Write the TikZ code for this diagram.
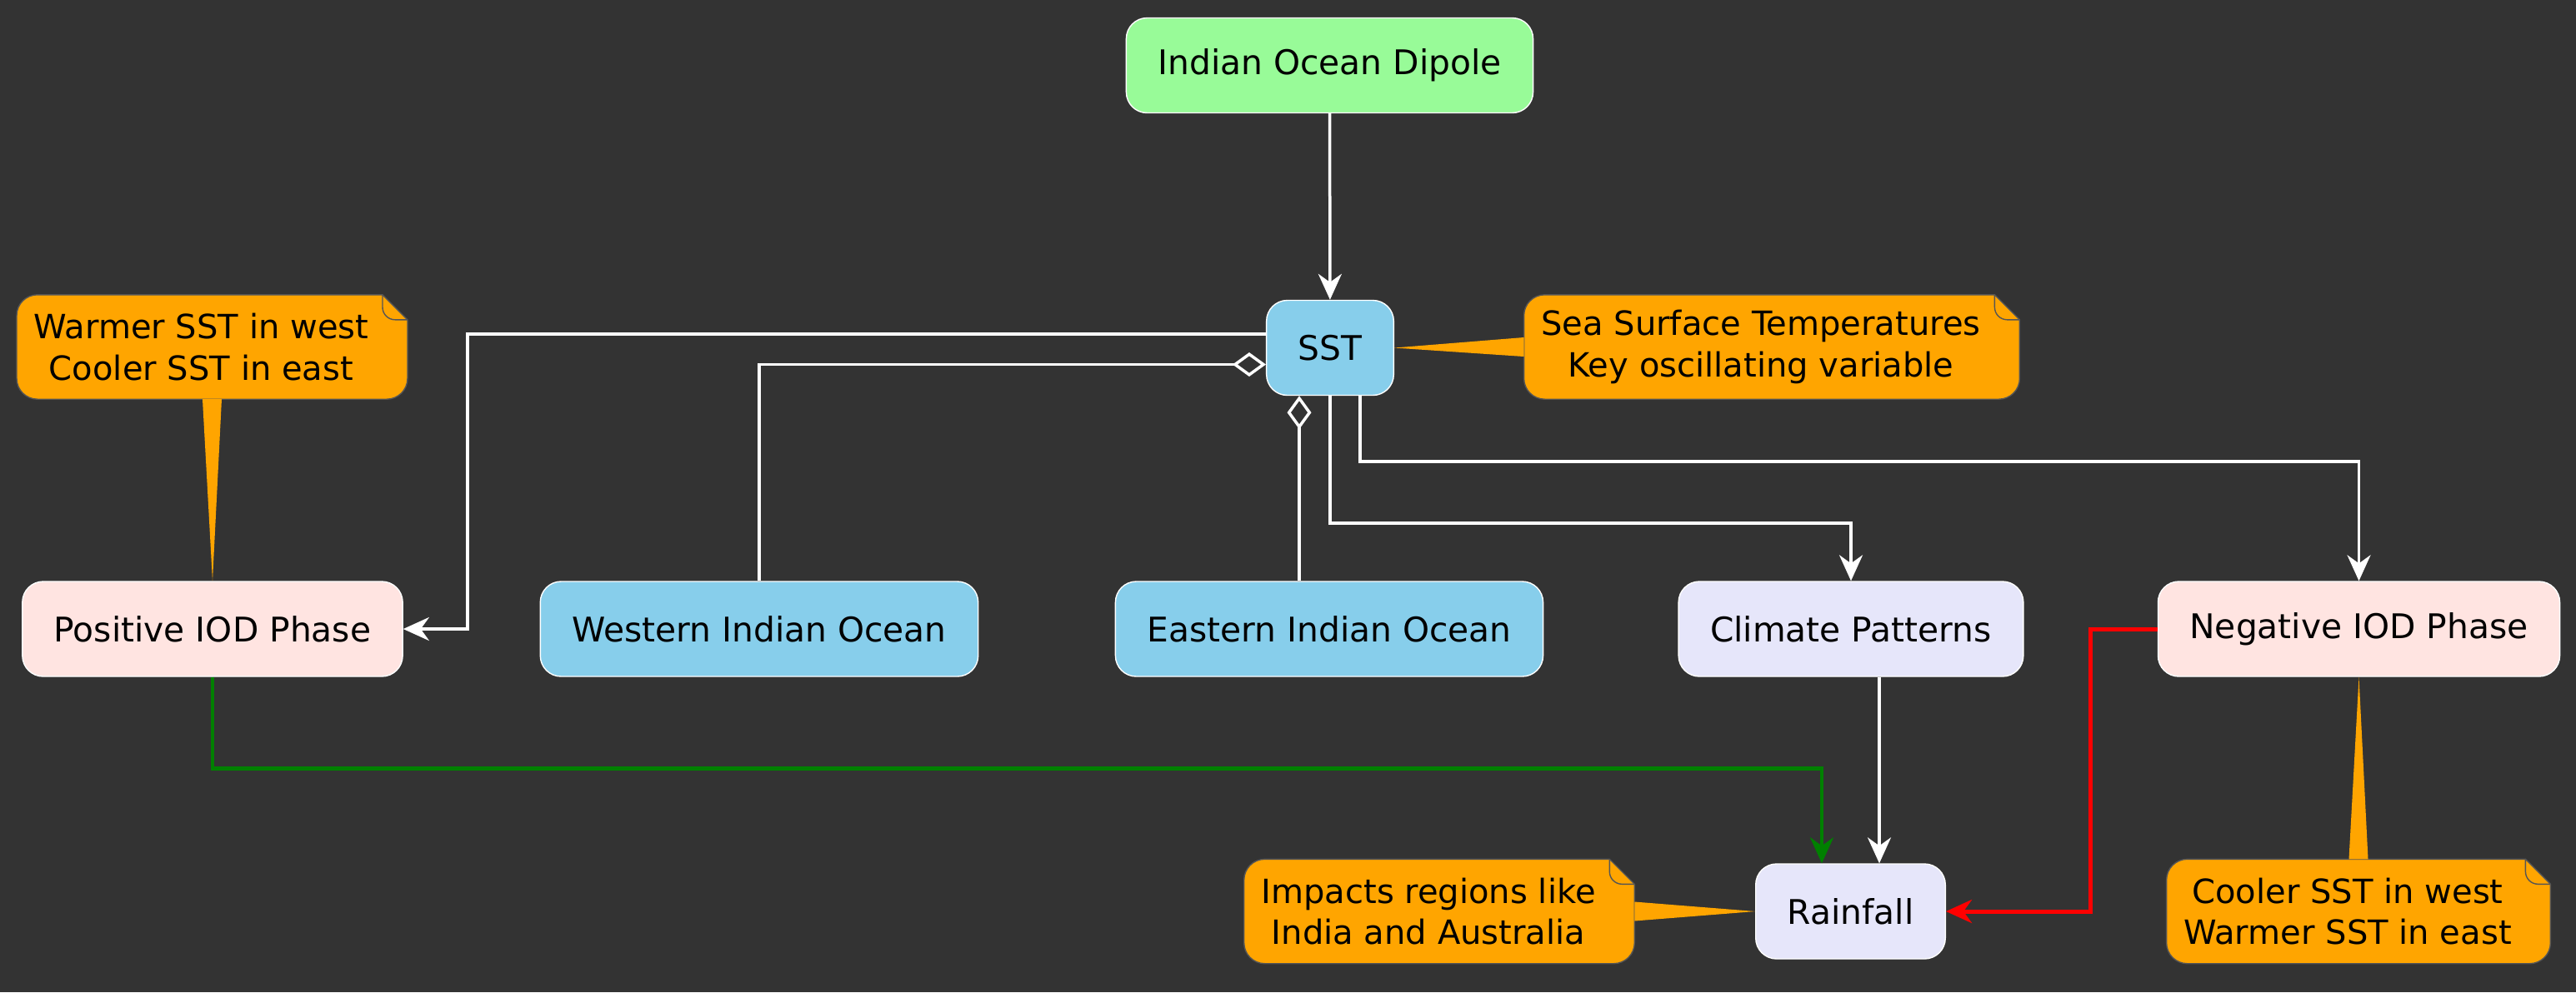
\documentclass[tikz,border=0pt]{standalone}
\usepackage{fontspec}
\setmainfont{DejaVu Sans}
\usetikzlibrary{arrows.meta}
\definecolor{canvas}{HTML}{333333}
\definecolor{ocean}{HTML}{87CEEB}
\definecolor{dipole}{HTML}{98FB98}
\definecolor{phase}{HTML}{FFE4E1}
\definecolor{effect}{HTML}{E6E6FA}
\definecolor{memo}{HTML}{FFA500}
\definecolor{memoline}{HTML}{555555}
\pgfdeclarelayer{back}
\pgfsetlayers{back,main}
\newcommand{\notepaper}[1]{%
  \fill[memo, draw=memoline, line width=0.4pt]
    ([xshift=-0.04cm]#1.north east) -- ([xshift=0.25cm]#1.north west)
    arc[start angle=90, end angle=180, radius=0.25cm] -- ([yshift=0.25cm]#1.south west)
    arc[start angle=180, end angle=270, radius=0.25cm] -- ([xshift=0.01cm]#1.south east)
    arc[start angle=270, end angle=360, radius=0.25cm] -- ([xshift=0.26cm,yshift=-0.3cm]#1.north east) -- cycle;
  \draw[memoline, line width=0.4pt] ([xshift=-0.04cm]#1.north east) -- ++(0,-0.15)
    arc[start angle=180, end angle=270, radius=0.15cm] -- ([xshift=0.26cm,yshift=-0.3cm]#1.north east);}

\begin{document}
\begin{tikzpicture}[
    block/.style={draw=white, line width=0.4pt, rounded corners=0.25cm, minimum height=1.14cm,
        inner xsep=0.38cm, font=\fontsize{11.6pt}{14pt}\selectfont},
    notebox/.style={align=center, minimum height=1.24cm, inner xsep=0.2cm,
        font=\fontsize{11.4pt}{14pt}\selectfont},
    wire/.style={white, line width=0.035cm, -{Stealth[length=0.31cm, width=0.28cm, inset=0.1cm]}},
    part/.style={white, line width=0.035cm, {Diamond[open, length=0.4cm, width=0.29cm]}-}
]

            \begin{pgfonlayer}{back}
            \fill[canvas] (0,0) rectangle (30.91,-11.91);
            \end{pgfonlayer}

            \node[block, fill=dipole] (iod) at (15.955,-0.785) {Indian Ocean Dipole};
            \node[block, fill=ocean] (sst) at (15.96,-4.175) {SST};
            \node[block, fill=phase] (pos) at (2.55,-7.55) {Positive IOD Phase};
            \node[block, fill=ocean] (wio) at (9.11,-7.55) {Western Indian Ocean};
            \node[block, fill=ocean] (eio) at (15.95,-7.55) {Eastern Indian Ocean};
            \node[block, fill=effect] (clim) at (22.21,-7.55) {Climate Patterns};
            \node[block, fill=phase] (neg) at (28.305,-7.55) {Negative IOD Phase};
            \node[block, fill=effect] (rain) at (22.205,-10.94) {Rainfall};

            \node[notebox] (nsst) at (21.13,-4.165) {Sea Surface Temperatures\\Key oscillating variable};
            \node[notebox] (nwarm) at (2.415,-4.165) {Warmer SST in west\\Cooler SST in east};
            \node[notebox] (nimp) at (17.14,-10.94) {Impacts regions like\\India and Australia};
            \node[notebox] (ncool) at (28.17,-10.94) {Cooler SST in west\\Warmer SST in east};

            \begin{pgfonlayer}{back}
            \notepaper{nsst}
            \notepaper{nwarm}
            \notepaper{nimp}
            \notepaper{ncool}
            \fill[memo] ([yshift=0.115cm]nsst.west) -- (sst.east) -- ([yshift=-0.115cm]nsst.west) -- cycle;
            \fill[memo] ([xshift=0.015cm]nwarm.south) -- (pos.north) -- ([xshift=0.245cm]nwarm.south) -- cycle;
            \fill[memo] ([xshift=0.26cm,yshift=0.115cm]nimp.east) -- (rain.west) -- ([xshift=0.26cm,yshift=-0.115cm]nimp.east) -- cycle;
            \fill[memo] ([xshift=0.015cm]ncool.north) -- (neg.south) -- ([xshift=0.245cm]ncool.north) -- cycle;
            \end{pgfonlayer}

            \draw[wire] (iod) -- (sst);
            \draw[wire] ([yshift=0.165cm]sst.west) -| ([xshift=0.77cm]pos.east) -- (pos.east);
            \draw[part] ([yshift=-0.2cm]sst.west) -| (wio.north);
            \draw[part] ([xshift=-0.37cm]sst.south) -- ([xshift=-0.37cm]sst.south |- eio.north);
            \draw[wire] (sst.south) -- ++(0,-1.53) -| (clim.north);
            \draw[wire] ([xshift=0.36cm]sst.south) -- ++(0,-0.79) -| (neg.north);
            \draw[wire] ([xshift=0.34cm]clim.south) -- ([xshift=0.34cm]clim.south |- rain.north);
            \draw[wire, green!50!black, line width=0.045cm] (pos.south) -- ++(0,-1.1) -| ([xshift=-0.345cm]rain.north);
            \draw[wire, red, line width=0.05cm] (neg.west) -- ++(-0.8,0) |- (rain.east);

        \end{tikzpicture}
\end{document}
